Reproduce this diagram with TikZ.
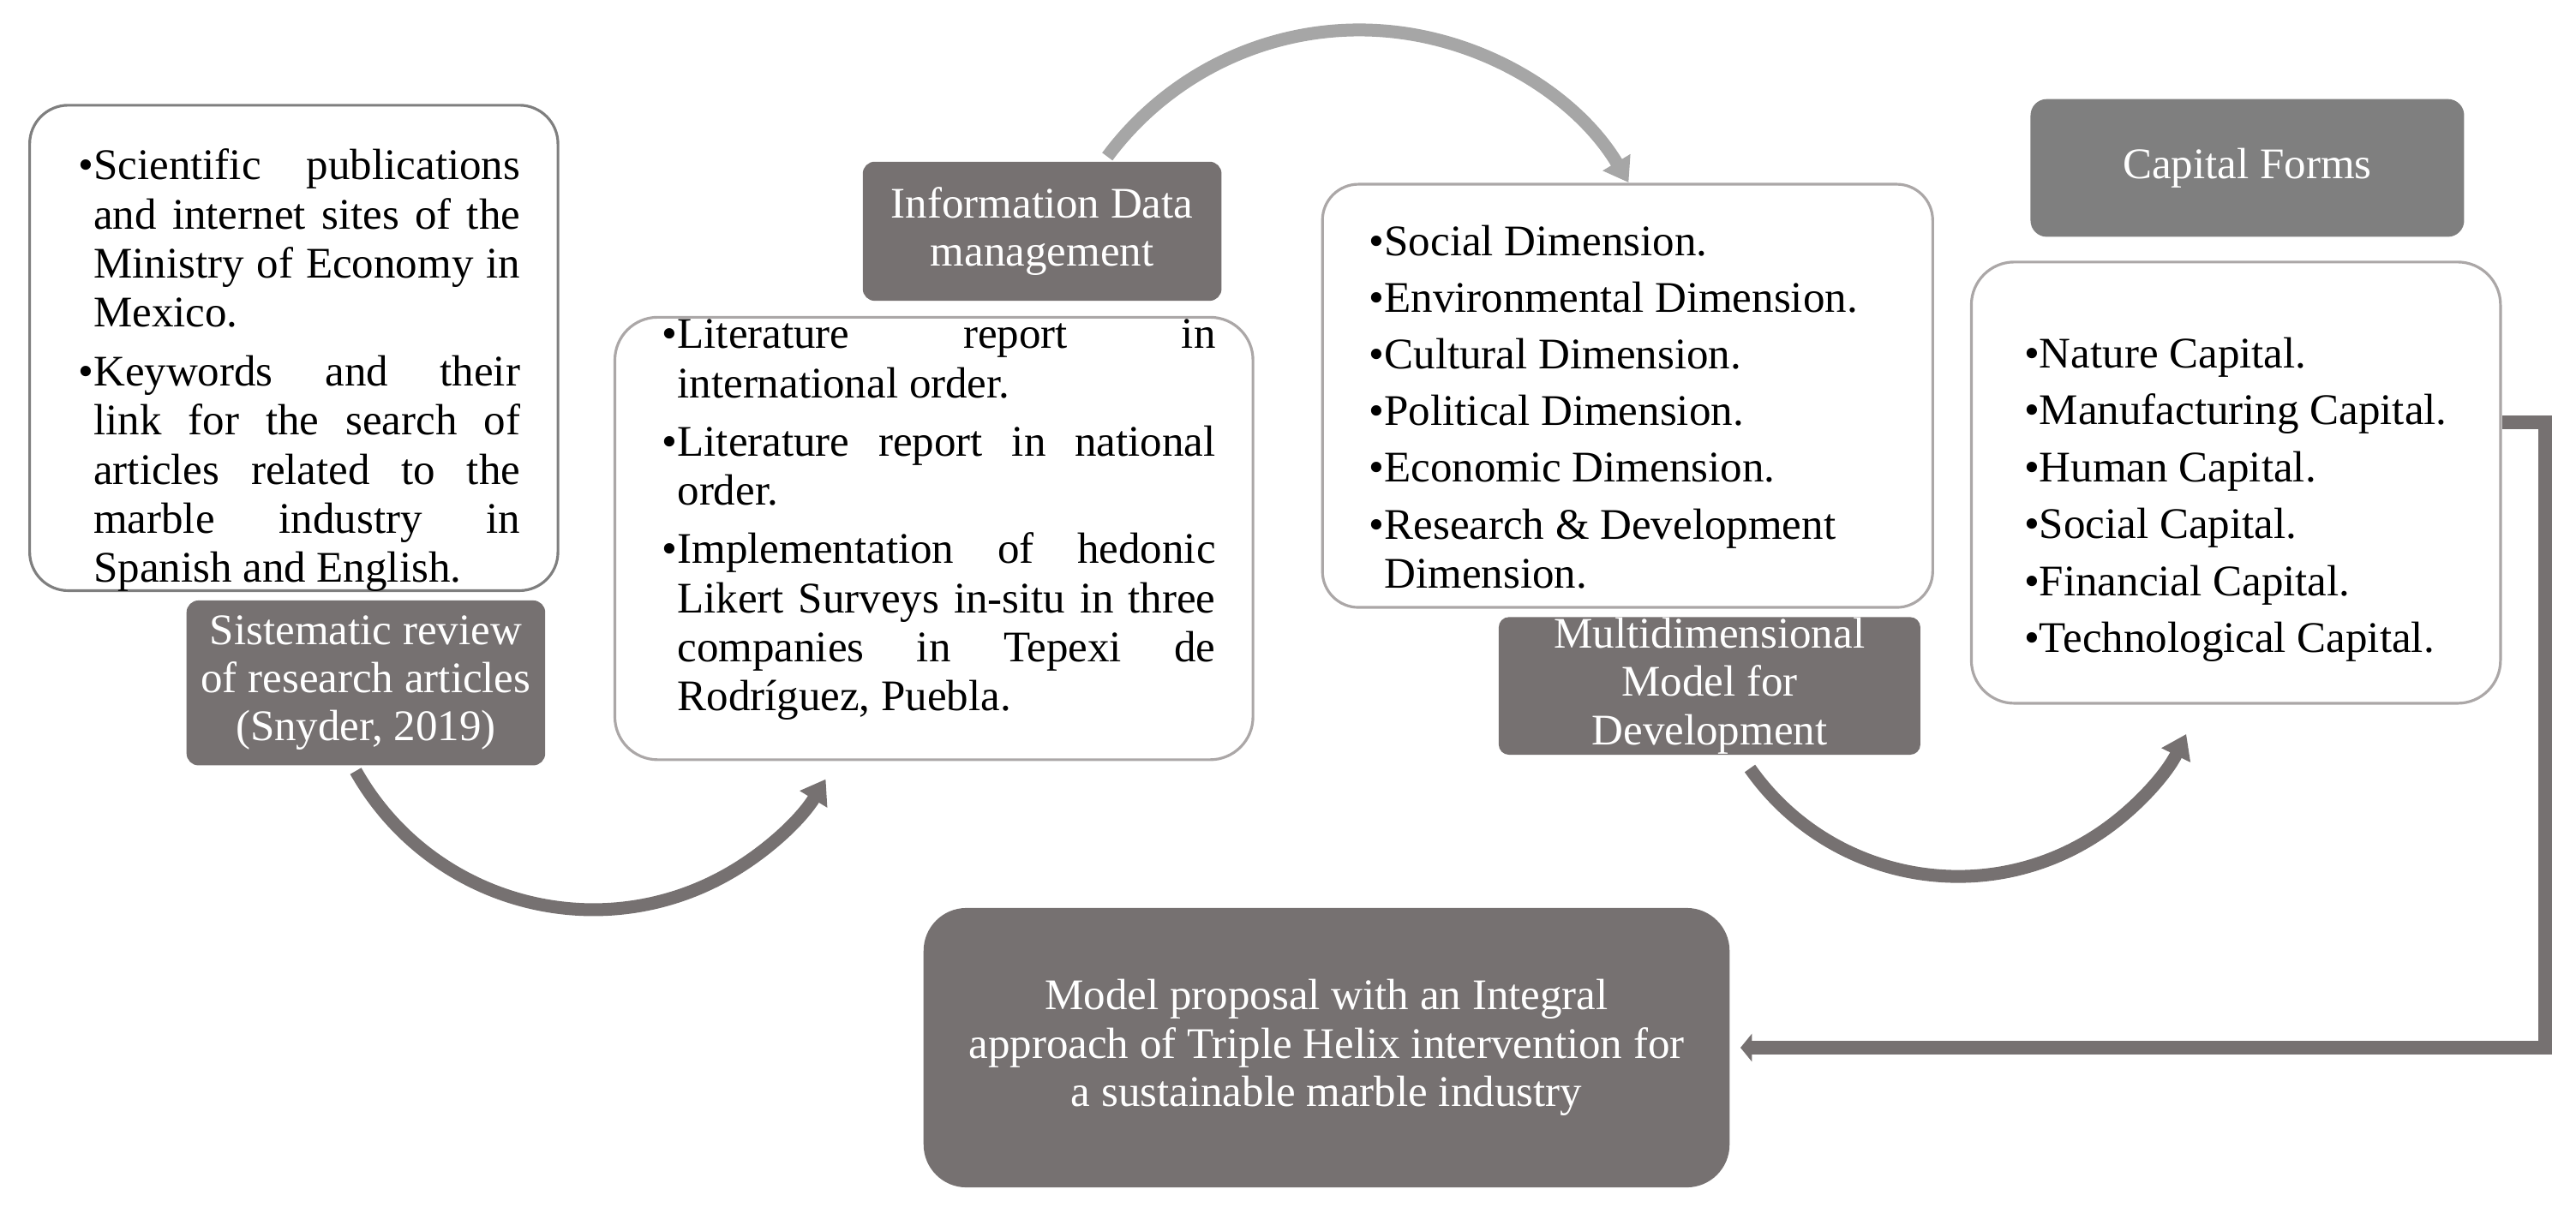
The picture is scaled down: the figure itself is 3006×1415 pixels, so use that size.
\documentclass[tikz,border=0pt]{standalone}
\usepackage{fontspec}
\setmainfont{Liberation Serif}
\usetikzlibrary{arrows.meta}
\definecolor{darkbox}{HTML}{767171}
\definecolor{capbox}{HTML}{7F7F7F}
\definecolor{lightarc}{HTML}{A6A6A6}
\definecolor{borderA}{HTML}{7F7F7F}
\definecolor{borderB}{HTML}{ABA7A7}
\setlength{\parskip}{0pt}
\newcommand\jst[1]{\makebox[\linewidth][s]{#1}\par}
\newcommand\lft[1]{\makebox[\linewidth][l]{#1}\par}
\newcommand\bul{\llap{\textbullet}}
\newcommand\bodyfont{\fontsize{14.5pt}{16.3pt}\selectfont}
\begin{document}
\begin{tikzpicture}[x=0.01cm,y=0.01cm,
  wbox/.style={draw=borderB, line width=0.9pt, fill=white, rounded corners=0.45cm, inner sep=0pt},
  dbox/.style={fill=darkbox, rounded corners=0.14cm, inner sep=0pt, text=white, align=center, font=\fontsize{14.5pt}{16pt}\selectfont},
  txt/.style={anchor=base west, inner sep=0pt, font=\bodyfont},
  conn/.style={draw=darkbox, line width=4.27pt, -{Triangle[width=10.2pt,length=7.8pt]}},
  elbow/.style={draw=darkbox, line width=4.55pt, line join=miter, -{Triangle[width=9.1pt,length=3.8pt]}}
]
\useasboundingbox (0,0) rectangle (3006,-1415);

% curved connectors (drawn first, under the boxes)
\coordinate (a1s) at (415.1,-900);
\draw[conn] (a1s) arc[start angle=209.4, end angle=328.6, radius=3.178cm];
\coordinate (a2s) at (1292.2,-182.8);
\draw[conn, draw=lightarc] (a2s) arc[start angle=143.4, end angle=30.9, radius=3.66cm];
\coordinate (a3s) at (2042,-897);
\draw[conn] (a3s) arc[start angle=215.1, end angle=333.9, radius=2.965cm];

% boxes
\node[wbox, draw=borderA, minimum width=6.161cm, minimum height=5.663cm] (b1) at (342.85,-406.15) {};
\node[dbox, minimum width=4.183cm, minimum height=1.924cm] (d1) at (426.95,-797.2) {Sistematic review\\of research articles\\(Snyder, 2019)};
\node[dbox, minimum width=4.184cm, minimum height=1.623cm] (d2) at (1216.1,-269.95) {Information Data\\management};
\node[wbox, rounded corners=0.5cm, minimum width=7.442cm, minimum height=5.162cm] (b2) at (1089.8,-628.6) {};
\node[wbox, rounded corners=0.42cm, minimum width=7.117cm, minimum height=4.937cm] (b3) at (1899.25,-462.05) {};
\node[dbox, rounded corners=0.12cm, minimum width=4.918cm, minimum height=1.606cm] (d3) at (1994.9,-800.7) {Multidimensional\\Model for\\Development};
\node[dbox, fill=capbox, rounded corners=0.19cm, minimum width=5.057cm, minimum height=1.607cm] (d4) at (2622.45,-196.05) {Capital Forms};
\node[wbox, rounded corners=0.5cm, minimum width=6.171cm, minimum height=5.148cm] (b4) at (2609.15,-563.4) {};
\node[dbox, rounded corners=0.5cm, minimum width=9.40cm, minimum height=3.26cm] (d5) at (1548,-1223) {Model proposal with an Integral\\approach of Triple Helix intervention for\\a sustainable marble industry};

% box texts
\node[txt] (t1) at (108.5,-209.7) {\begin{minipage}[t]{141.6pt}
\jst{\bul Scientific publications}
\jst{and internet sites of the}
\jst{Ministry of Economy in}
\lft{Mexico.}
\vspace{3.3pt}
\jst{\bul Keywords and their}
\jst{link for the search of}
\jst{articles related to the}
\jst{marble industry in}
\lft{Spanish and English.}
\end{minipage}};

\node[txt] (t2) at (789.8,-406.9) {\begin{minipage}[t]{178.6pt}
\jst{\bul Literature report in}
\lft{international order.}
\vspace{3.1pt}
\jst{\bul Literature report in national}
\lft{order.}
\vspace{3.1pt}
\jst{\bul Implementation of hedonic}
\jst{Likert Surveys in-situ in three}
\jst{companies in Tepexi de}
\lft{Rodríguez, Puebla.}
\end{minipage}};

\node[txt] (t3) at (1614.8,-298.5) {\begin{minipage}[t]{180pt}
\lft{\bul Social Dimension.}
\vspace{2.5pt}
\lft{\bul Environmental Dimension.}
\vspace{2.5pt}
\lft{\bul Cultural Dimension.}
\vspace{2.5pt}
\lft{\bul Political Dimension.}
\vspace{2.5pt}
\lft{\bul Economic Dimension.}
\vspace{2.5pt}
\lft{\bul Research \& Development}
\lft{Dimension.}
\end{minipage}};

\node[txt] (t4) at (2379.2,-429.5) {\begin{minipage}[t]{150pt}
\lft{\bul Nature Capital.}
\vspace{2.6pt}
\lft{\bul Manufacturing Capital.}
\vspace{2.6pt}
\lft{\bul Human Capital.}
\vspace{2.6pt}
\lft{\bul Social Capital.}
\vspace{2.6pt}
\lft{\bul Financial Capital.}
\vspace{2.6pt}
\lft{\bul Technological Capital.}
\end{minipage}};

% elbow connector
\draw[elbow] ([yshift=0.704cm]b4.east) -- ++(0.503cm,0) |- ([xshift=0.12cm]d5.east);
\end{tikzpicture}
\end{document}
